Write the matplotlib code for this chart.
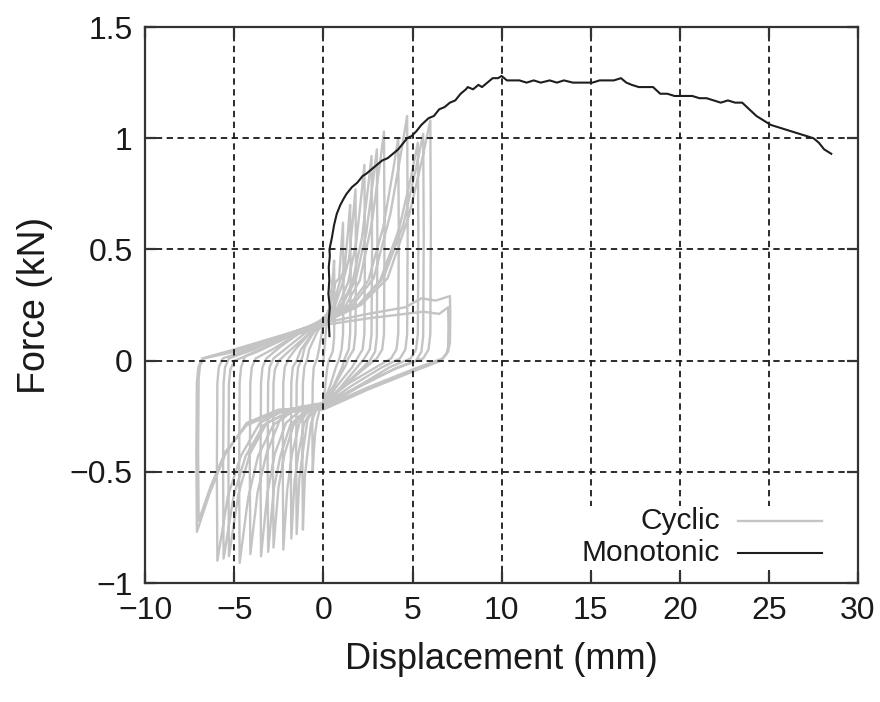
import numpy as np
import matplotlib
matplotlib.use("Agg")
import matplotlib.pyplot as plt
from matplotlib.patches import Rectangle

# data
# ------------------------------------------------------------------------------------------------------------------
# cyclic test, one loop per line (displacement mm / force kN)
cyc_x = [
    0.0, 0.15, 0.3, 0.45, 0.56, 0.6, 0.62, 0.6, 0.52, 0.3, 0.2, 0.1, 0.0, -0.21, -0.36, -0.47, -0.54, -0.6, -0.62, -0.6, -0.54, -0.35, -0.25, -0.1,
    0.0, 0.39, 0.66, 0.88, 1.02, 1.1, 1.13, 1.1, 1.02, 0.9, 0.7, 0.39, 0.0, -0.4, -0.69, -0.9, -1.04, -1.15, -1.18, -1.15, -1.07, -0.9, -0.8, -0.4,
    0.0, 0.53, 0.9, 1.2, 1.4, 1.5, 1.53, 1.5, 1.42, 1.2, 1.05, 0.53, 0.0, -0.53, -0.9, -1.17, -1.35, -1.5, -1.53, -1.5, -1.42, -1.2, -1.05, -0.53,
    0.0, 0.63, 1.08, 1.44, 1.67, 1.8, 1.83, 1.8, 1.7, 1.4, 1.26, 0.63, 0.0, -0.63, -1.08, -1.4, -1.62, -1.8, -1.83, -1.8, -1.72, -1.5, -1.26, -0.63,
    0.0, 0.8, 1.38, 1.84, 2.14, 2.3, 2.33, 2.3, 2.2, 1.9, 1.61, 0.8, 0.0, -0.79, -1.35, -1.76, -2.03, -2.25, -2.28, -2.25, -2.17, -1.95, -1.58, -0.79,
    0.0, 0.95, 1.62, 2.16, 2.51, 2.7, 2.73, 2.7, 2.6, 2.3, 1.89, 0.95, 0.0, -0.98, -1.68, -2.18, -2.52, -2.8, -2.83, -2.8, -2.72, -2.5, -1.96, -0.98,
    0.0, 1.05, 1.8, 2.4, 2.79, 3.0, 3.03, 3.0, 2.9, 2.6, 2.1, 1.05, 0.0, -1.09, -1.86, -2.42, -2.79, -3.1, -3.13, -3.1, -3.02, -2.8, -2.17, -1.09,
    0.0, 1.19, 2.04, 2.72, 3.16, 3.4, 3.43, 3.4, 3.3, 3.0, 2.38, 1.19, 0.0, -1.23, -2.1, -2.73, -3.15, -3.5, -3.53, -3.5, -3.42, -3.2, -2.45, -1.23,
    0.0, 1.47, 2.52, 3.36, 3.9, 4.2, 4.23, 4.2, 4.1, 3.8, 2.94, 1.47, 0.0, -1.44, -2.46, -3.2, -3.69, -4.1, -4.13, -4.1, -4.02, -3.8, -2.87, -1.44,
    0.0, 1.65, 2.82, 3.76, 4.37, 4.7, 4.73, 4.7, 4.6, 4.3, 3.29, 1.65, 0.0, -1.65, -2.82, -3.67, -4.23, -4.7, -4.73, -4.7, -4.62, -4.4, -3.29, -1.65,
    0.0, 1.86, 3.18, 4.24, 4.93, 5.3, 5.33, 5.3, 5.2, 4.9, 3.71, 1.86, 0.0, -1.86, -3.18, -4.13, -4.77, -5.3, -5.33, -5.3, -5.22, -5.0, -3.71, -1.86,
    0.0, 1.96, 3.36, 4.48, 5.21, 5.6, 5.63, 5.6, 5.5, 5.2, 3.92, 1.96, 0.0, -1.96, -3.36, -4.37, -5.04, -5.6, -5.63, -5.6, -5.52, -5.3, -3.92, -1.96,
    0.0, 2.1, 3.6, 4.8, 5.58, 6.0, 6.03, 6.0, 5.9, 5.6, 4.2, 2.1, 0.0, -2.08, -3.57, -4.64, -5.36, -5.95, -5.98, -5.95, -5.87, -5.65, -4.17, -2.08,
    0.0, 2.5, 4.6, 5.5, 6.3, 7.1, 7.12, 7.1, 7.0, 6.7, 5.0, 2.5, 0.0, -2.5, -4.3, -5.5, -6.4, -7.1, -7.13, -7.1, -7.02, -6.8, -5.0, -2.5,
    0.0, 2.5, 4.6, 5.6, 6.5, 7.0, 7.02, 7.0, 6.9, 6.6, 5.0, 2.5, 0.0, -2.5, -4.3, -5.5, -6.3, -7.0, -7.03, -7.0, -6.92, -6.7, -5.0, -2.5, 0.0,
]
cyc_f = [
    0.0, 0.14, 0.22, 0.32, 0.4, 0.45, 0.25, 0.1, 0.04, 0.0, -0.04, -0.12, -0.18, -0.22, -0.27, -0.33, -0.41, -0.5, -0.3, -0.1, -0.03, 0.01, 0.05, 0.12,
    0.18, 0.24, 0.35, 0.37, 0.53, 0.62, 0.34, 0.12, 0.05, 0.01, -0.03, -0.11, -0.19, -0.22, -0.28, -0.42, -0.52, -0.76, -0.42, -0.1, -0.03, 0.01, 0.05, 0.12,
    0.18, 0.24, 0.35, 0.42, 0.6, 0.7, 0.38, 0.12, 0.05, 0.01, -0.03, -0.12, -0.19, -0.21, -0.27, -0.42, -0.53, -0.78, -0.43, -0.1, -0.03, 0.01, 0.06, 0.13,
    0.19, 0.24, 0.35, 0.46, 0.65, 0.77, 0.42, 0.12, 0.05, 0.01, -0.02, -0.11, -0.19, -0.22, -0.28, -0.42, -0.54, -0.8, -0.44, -0.1, -0.03, 0.0, 0.05, 0.12,
    0.18, 0.24, 0.35, 0.53, 0.75, 0.88, 0.48, 0.12, 0.05, 0.01, -0.03, -0.11, -0.2, -0.22, -0.28, -0.42, -0.58, -0.85, -0.47, -0.1, -0.03, 0.01, 0.05, 0.12,
    0.17, 0.24, 0.35, 0.55, 0.78, 0.92, 0.5, 0.12, 0.05, 0.01, -0.03, -0.12, -0.21, -0.23, -0.29, -0.42, -0.57, -0.84, -0.46, -0.1, -0.04, 0.0, 0.04, 0.11,
    0.18, 0.25, 0.36, 0.57, 0.81, 0.95, 0.52, 0.11, 0.04, 0.0, -0.04, -0.12, -0.2, -0.23, -0.29, -0.43, -0.58, -0.86, -0.47, -0.1, -0.03, 0.01, 0.05, 0.12,
    0.18, 0.24, 0.36, 0.62, 0.88, 1.03, 0.56, 0.12, 0.05, 0.01, -0.03, -0.11, -0.2, -0.22, -0.28, -0.42, -0.6, -0.88, -0.48, -0.1, -0.03, 0.01, 0.06, 0.13,
    0.19, 0.25, 0.36, 0.6, 0.85, 1.0, 0.55, 0.12, 0.05, 0.01, -0.03, -0.1, -0.19, -0.21, -0.27, -0.42, -0.59, -0.87, -0.48, -0.1, -0.03, 0.01, 0.05, 0.12,
    0.18, 0.25, 0.37, 0.66, 0.94, 1.1, 0.6, 0.12, 0.05, 0.01, -0.03, -0.11, -0.2, -0.22, -0.29, -0.43, -0.62, -0.91, -0.5, -0.1, -0.03, 0.02, 0.06, 0.13,
    0.17, 0.24, 0.36, 0.59, 0.83, 0.98, 0.54, 0.12, 0.05, 0.01, -0.03, -0.12, -0.21, -0.23, -0.28, -0.42, -0.6, -0.88, -0.48, -0.1, -0.04, 0.0, 0.04, 0.11,
    0.18, 0.25, 0.37, 0.61, 0.87, 1.02, 0.56, 0.11, 0.04, 0.0, -0.04, -0.12, -0.21, -0.23, -0.29, -0.43, -0.61, -0.89, -0.49, -0.1, -0.03, 0.01, 0.05, 0.12,
    0.18, 0.25, 0.37, 0.65, 0.92, 1.08, 0.59, 0.12, 0.05, 0.01, -0.03, -0.11, -0.2, -0.22, -0.28, -0.43, -0.61, -0.9, -0.5, -0.1, -0.03, 0.01, 0.05, 0.12,
    0.17, 0.21, 0.24, 0.28, 0.27, 0.29, 0.2, 0.08, 0.04, 0.01, -0.04, -0.12, -0.21, -0.22, -0.28, -0.42, -0.6, -0.77, -0.42, -0.1, -0.03, 0.01, 0.05, 0.11,
    0.16, 0.19, 0.21, 0.22, 0.21, 0.24, 0.15, 0.06, 0.03, 0.0, -0.05, -0.13, -0.22, -0.23, -0.29, -0.41, -0.56, -0.72, -0.4, -0.08, -0.02, 0.01, 0.04, 0.1, 0.15,
]

# monotonic test
mono_x = [
    0.34, 0.30, 0.36, 0.28, 0.33, 0.30, 0.36, 0.34, 0.47, 0.60, 0.75, 0.95, 1.15, 1.30, 1.60, 1.90,
    2.20, 2.40, 2.70, 3.00, 3.30, 3.60, 3.90, 4.20, 4.50, 4.70, 4.95, 5.20, 5.50, 5.90, 6.20, 6.50,
    6.80, 7.10, 7.40, 7.70, 8.00, 8.10, 8.40, 8.70, 8.90, 9.20, 9.50, 9.80, 10.00, 10.30, 10.70, 11.00,
    11.40, 11.80, 12.20, 12.70, 13.10, 13.50, 14.00, 14.40, 14.70, 15.10, 15.50, 15.90, 16.30, 16.70, 17.00, 17.30,
    17.70, 18.10, 18.50, 18.90, 19.30, 19.70, 20.10, 20.70, 21.10, 21.50, 21.90, 22.30, 22.70, 23.10, 23.50, 23.90,
    24.30, 24.70, 25.10, 25.50, 25.90, 26.30, 26.70, 27.10, 27.50, 27.80, 28.10, 28.50,
]
mono_f = [
    0.11, 0.18, 0.24, 0.30, 0.36, 0.42, 0.47, 0.50, 0.55, 0.61, 0.66, 0.70, 0.73, 0.75, 0.78, 0.80,
    0.83, 0.84, 0.86, 0.88, 0.90, 0.91, 0.93, 0.95, 0.98, 1.00, 1.01, 1.03, 1.06, 1.09, 1.10, 1.13,
    1.14, 1.16, 1.17, 1.20, 1.22, 1.23, 1.22, 1.24, 1.23, 1.25, 1.27, 1.27, 1.28, 1.26, 1.26, 1.26,
    1.25, 1.26, 1.25, 1.26, 1.25, 1.26, 1.25, 1.25, 1.25, 1.25, 1.26, 1.26, 1.26, 1.27, 1.25, 1.24,
    1.23, 1.23, 1.23, 1.20, 1.20, 1.19, 1.19, 1.19, 1.18, 1.18, 1.17, 1.16, 1.17, 1.16, 1.16, 1.13,
    1.10, 1.08, 1.06, 1.05, 1.04, 1.03, 1.02, 1.01, 1.00, 0.98, 0.95, 0.93,
]

xticks = [-10, -5, 0, 5, 10, 15, 20, 25, 30]
yticks = [-1, -0.5, 0, 0.5, 1, 1.5]
ytick_labels = ['\u22121', '\u22120.5', '0', '0.5', '1', '1.5']

assert len(cyc_x) == len(cyc_f) and len(mono_x) == len(mono_f)

# plot
# ------------------------------------------------------------------------------------------------------------------
plt.rcParams['font.family'] = ['Liberation Sans', 'DejaVu Sans']
plt.rcParams['lines.solid_joinstyle'] = 'round'

fig = plt.figure(figsize=(8.8, 7.02), dpi=100)
ax = fig.add_axes([0.165, 0.1695, 0.81, 0.792])

cyc_color = '#c4c4c4'
mono_color = '#1e1e1e'
text_color = '#1a1a1a'

ax.plot(cyc_x, cyc_f, color=cyc_color, lw=1.7, zorder=2)
ax.plot(mono_x, mono_f, color=mono_color, lw=1.5, zorder=3.5)

ax.set_xlim(-10, 30)
ax.set_ylim(-1, 1.5)
ax.set_xticks(xticks)
ax.set_yticks(yticks)
ax.set_yticklabels(ytick_labels)

ax.set_axisbelow(False)
ax.grid(True, color='#1a1a1a', linestyle=(0, (3.5, 2.5)), linewidth=1.3, zorder=2.5)

for s in ax.spines.values():
    s.set_color('#333333')
    s.set_linewidth(1.6)
    s.set_zorder(5)

ax.tick_params(direction='in', length=8, width=1.6, color='#333333',
               top=True, right=True, labelsize=23, pad=9, labelcolor=text_color)

ax.set_xlabel('Displacement (mm)', fontsize=26, labelpad=12, color=text_color)
ax.set_ylabel('Force (kN)', fontsize=27, labelpad=12, color=text_color)

# key, gnuplot style (text right-aligned, sample on the right)
ax.add_patch(Rectangle((0.6, 0.024), 0.375, 0.115, transform=ax.transAxes,
                       facecolor='white', edgecolor='none', zorder=4))
ax.text(0.806, 0.112, 'Cyclic', transform=ax.transAxes, ha='right', va='center',
        fontsize=21.5, color=text_color, zorder=4.5)
ax.text(0.806, 0.054, 'Monotonic', transform=ax.transAxes, ha='right', va='center',
        fontsize=21.5, color=text_color, zorder=4.5)
ax.plot([0.832, 0.95], [0.112, 0.112], transform=ax.transAxes, color=cyc_color, lw=1.7, zorder=4.5)
ax.plot([0.832, 0.95], [0.054, 0.054], transform=ax.transAxes, color=mono_color, lw=1.5, zorder=4.5)

fig.savefig('out.png', dpi=100)
